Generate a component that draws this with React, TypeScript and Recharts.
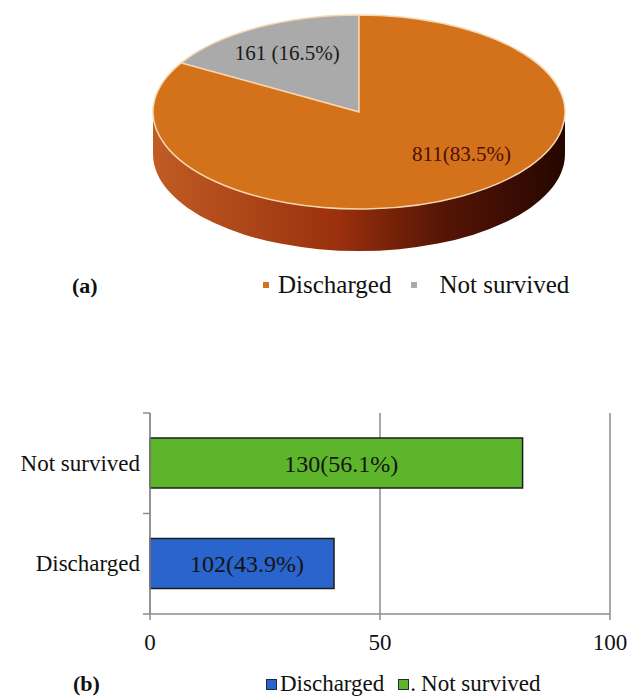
import React from "react";
import {
  PieChart,
  Pie,
  Cell,
  BarChart,
  Bar,
  XAxis,
  YAxis,
  CartesianGrid,
  LabelList,
} from "recharts";

// pie (a)
const pieNames = ["Not survived", "Discharged"];
const pieCounts = [161, 811];
const pieLabels = ["161 (16.5%)", "811(83.5%)"];

// bars (b)
const barNames = ["Not survived", "Discharged"];
const barLengths = [81, 40];
const barLabels = ["130(56.1%)", "102(43.9%)"];
const xTicks = [0, 50, 100];

const legendNames = ["Discharged", "Not survived"];

const SERIF = '"Liberation Serif", "Times New Roman", serif';
const PIE_COLORS: Record<string, string> = { "Not survived": "#aaaaaa", Discharged: "#d4711b" };
const BAR_COLORS: Record<string, string> = { "Not survived": "#5cb52a", Discharged: "#2a64cd" };
const TILT = 97 / 206;
const DEPTH = 42;
const RAD = Math.PI / 180;
// where each slice label sits, as a fraction of the radius (x, y)
const LABEL_POS = [
  [0.7, 0.7],
  [1.0, 0.5],
];

const pieData = pieNames.map((name, i) => ({ name, value: pieCounts[i], label: pieLabels[i] }));
const barData = barNames.map((name, i) => ({ name, value: barLengths[i], label: barLabels[i] }));

const pt = (cx: number, cy: number, rx: number, ry: number, a: number) => [
  cx + rx * Math.cos(a * RAD),
  cy - ry * Math.sin(a * RAD),
];

// tilted (elliptical) slice with a front wall
const EllipseSlice = (props: any) => {
  const { cx, cy, outerRadius, startAngle, endAngle, fill } = props;
  const rx = outerRadius;
  const ry = outerRadius * TILT;
  const lo = Math.min(startAngle, endAngle);
  const hi = Math.max(startAngle, endAngle);
  const [x1, y1] = pt(cx, cy, rx, ry, lo);
  const [x2, y2] = pt(cx, cy, rx, ry, hi);
  const large = hi - lo > 180 ? 1 : 0;

  const walls: React.ReactNode[] = [];
  [-180, 180, 540].forEach((base) => {
    const a1 = Math.max(lo, base);
    const a2 = Math.min(hi, base + 180);
    if (a2 - a1 > 0.01) {
      const [sx, sy] = pt(cx, cy, rx, ry, a1);
      const [ex, ey] = pt(cx, cy, rx, ry, a2);
      walls.push(
        <path
          key={base}
          d={`M${sx},${sy} A${rx},${ry} 0 0 0 ${ex},${ey} L${ex},${ey + DEPTH} A${rx},${ry} 0 0 1 ${sx},${sy + DEPTH} Z`}
          fill="url(#pieSide)"
        />
      );
    }
  });

  return (
    <g>
      {walls}
      <path
        d={`M${cx},${cy} L${x1},${y1} A${rx},${ry} 0 ${large} 0 ${x2},${y2} Z`}
        fill={fill}
        stroke="#f5d6ae"
        strokeWidth={1.5}
      />
    </g>
  );
};

const renderPieLabel = (props: any) => {
  const { cx, cy, outerRadius, midAngle, index } = props;
  const [fx, fy] = LABEL_POS[index];
  const x = cx + outerRadius * fx * Math.cos(midAngle * RAD);
  const y = cy - outerRadius * TILT * fy * Math.sin(midAngle * RAD);
  return (
    <text
      x={x}
      y={y}
      textAnchor="middle"
      dominantBaseline="central"
      fontFamily={SERIF}
      fontSize={21}
      fill={index === 0 ? "#1a1a1a" : "#4a0f06"}
    >
      {pieData[index].label}
    </text>
  );
};

const CategoryTick = (props: any) => {
  const { x, y, payload, index, visibleTicksCount } = props;
  const half = payload.offset || 50;
  const ax = x + 10;
  return (
    <g>
      <text x={x} y={y} textAnchor="end" dominantBaseline="central" fontFamily={SERIF} fontSize={23} fill="#111">
        {payload.value}
      </text>
      <line x1={ax - 7} x2={ax} y1={y - half} y2={y - half} stroke="#8c8c8c" strokeWidth={1.5} />
      {index === visibleTicksCount - 1 && (
        <line x1={ax - 7} x2={ax} y1={y + half} y2={y + half} stroke="#8c8c8c" strokeWidth={1.5} />
      )}
    </g>
  );
};

const Swatch = ({ color, size, border }: { color: string; size: number; border?: string }) => (
  <span
    style={{
      display: "inline-block",
      width: size,
      height: size,
      background: color,
      border: border ? `1px solid ${border}` : "none",
      boxSizing: "border-box",
    }}
  />
);

export default function App() {
  return (
    <div
      style={{
        position: "absolute",
        left: 0,
        top: 0,
        width: 632,
        height: 697,
        background: "#fff",
        fontFamily: SERIF,
        color: "#111",
        overflow: "hidden",
      }}
    >
      <div style={{ position: "absolute", left: 0, top: 0 }}>
        <PieChart width={632} height={270} margin={{ top: 0, right: 0, bottom: 0, left: 0 }}>
          <defs>
            <linearGradient id="pieSide" x1="153" x2="565" y1="0" y2="0" gradientUnits="userSpaceOnUse">
              <stop offset="0" stopColor="#c05c24" />
              <stop offset="0.45" stopColor="#9a300d" />
              <stop offset="0.7" stopColor="#561505" />
              <stop offset="1" stopColor="#240600" />
            </linearGradient>
          </defs>
          <Pie
            data={pieData}
            dataKey="value"
            nameKey="name"
            cx={359}
            cy={112}
            outerRadius={206}
            startAngle={90}
            endAngle={450}
            shape={EllipseSlice}
            activeShape={EllipseSlice}
            inactiveShape={EllipseSlice}
            label={renderPieLabel}
            labelLine={false}
            isAnimationActive={false}
          >
            {pieData.map((d) => (
              <Cell key={d.name} fill={PIE_COLORS[d.name]} />
            ))}
          </Pie>
        </PieChart>
      </div>

      <div style={{ position: "absolute", left: 72, top: 273, fontSize: 22, fontWeight: "bold", lineHeight: "26px" }}>
        (a)
      </div>
      <div style={{ position: "absolute", left: 263, top: 270, display: "flex", alignItems: "center", fontSize: 25, lineHeight: "30px" }}>
        {legendNames.map((n, i) => (
          <span key={n} style={{ display: "flex", alignItems: "center", marginRight: i === 0 ? 20 : 0 }}>
            <Swatch color={PIE_COLORS[n]} size={6} />
            <span style={{ marginLeft: i === 0 ? 9 : 22 }}>{n}</span>
          </span>
        ))}
      </div>

      <div style={{ position: "absolute", left: 0, top: 380 }}>
        <BarChart
          layout="vertical"
          width={632}
          height={317}
          data={barData}
          margin={{ top: 33, right: 22, bottom: 38, left: 0 }}
          barSize={50}
        >
          <CartesianGrid horizontal={false} stroke="#8c8c8c" strokeWidth={1.5} />
          <XAxis
            type="number"
            domain={[0, 100]}
            ticks={xTicks}
            axisLine={{ stroke: "#8c8c8c", strokeWidth: 1.5 }}
            tickLine={{ stroke: "#8c8c8c", strokeWidth: 1.5 }}
            tickSize={6}
            tickMargin={14}
            height={45}
            tick={{ fill: "#111", fontSize: 23, fontFamily: SERIF }}
          />
          <YAxis
            type="category"
            dataKey="name"
            width={150}
            axisLine={{ stroke: "#8c8c8c", strokeWidth: 1.5 }}
            tickLine={false}
            tickSize={0}
            tickMargin={10}
            tick={<CategoryTick />}
          />
          <Bar dataKey="value" stroke="#1c1c1c" strokeWidth={1.5} isAnimationActive={false}>
            {barData.map((d) => (
              <Cell key={d.name} fill={BAR_COLORS[d.name]} />
            ))}
            <LabelList dataKey="label" position="center" dx={5} fill="#141414" fontSize={24} fontFamily={SERIF} />
          </Bar>
        </BarChart>
      </div>

      <div style={{ position: "absolute", left: 73, top: 671, fontSize: 22, fontWeight: "bold", lineHeight: "26px" }}>
        (b)
      </div>
      <div style={{ position: "absolute", left: 266, top: 670, display: "flex", alignItems: "center", fontSize: 23, lineHeight: "28px" }}>
        {legendNames.map((n, i) => (
          <span key={n} style={{ display: "flex", alignItems: "center", marginRight: i === 0 ? 14 : 0 }}>
            <Swatch color={BAR_COLORS[n]} size={11} border="#1c2a4a" />
            {i === 1 && <span style={{ marginLeft: 1 }}>.</span>}
            <span style={{ marginLeft: i === 0 ? 3 : 5 }}>{n}</span>
          </span>
        ))}
      </div>
    </div>
  );
}
